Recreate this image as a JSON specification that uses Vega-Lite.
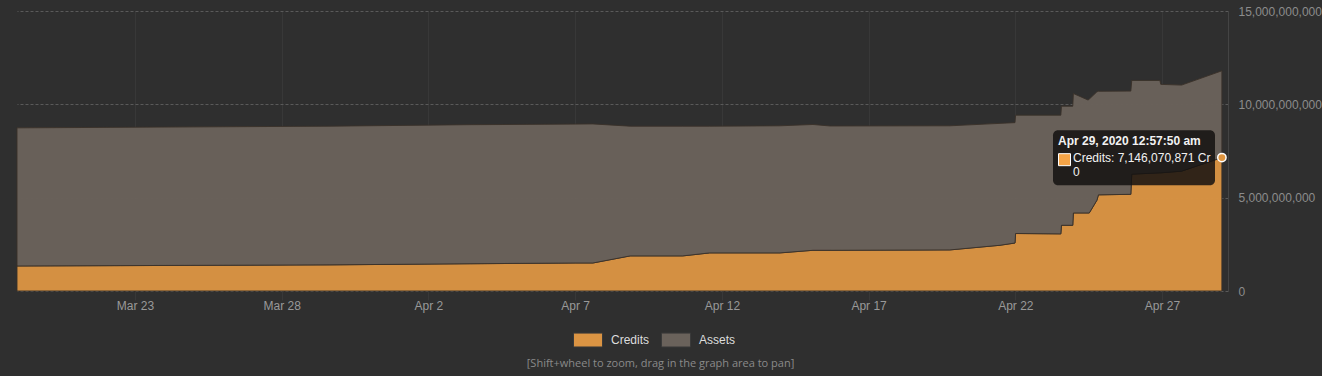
{
  "$schema": "https://vega.github.io/schema/vega-lite/v6.json",
  "autosize": "none",
  "width": 1211,
  "height": 280,
  "padding": {"left": 17, "top": 11, "right": 94, "bottom": 85},
  "background": "#2f2f2f",
  "config": {
    "view": {"stroke": null},
    "font": "Liberation Sans",
    "axis": {"labelFont": "Liberation Sans", "labelFontSize": 12, "labelColor": "#999999", "domain": false, "ticks": false}
  },
  "title": {
    "text": "[Shift+wheel to zoom, drag in the graph area to pan]",
    "orient": "bottom",
    "anchor": "middle",
    "frame": "group",
    "dx": 38,
    "offset": 9,
    "font": "Open Sans",
    "fontSize": 11,
    "fontWeight": "normal",
    "color": "#8a8a8a"
  },
  "datasets": {
    "balance": [
      {"t": "2020-03-18T23:29:00Z", "Credits": 1340000000, "Assets": 7400000000},
      {"t": "2020-03-29T15:30:00Z", "Credits": 1400000000, "Assets": 7430000000},
      {"t": "2020-04-03T10:00:00Z", "Credits": 1460000000, "Assets": 7450000000},
      {"t": "2020-04-07T00:00:00Z", "Credits": 1500000000, "Assets": 7440000000},
      {"t": "2020-04-07T14:30:00Z", "Credits": 1500000000, "Assets": 7450000000},
      {"t": "2020-04-08T21:00:00Z", "Credits": 1880000000, "Assets": 6950000000},
      {"t": "2020-04-10T16:00:00Z", "Credits": 1880000000, "Assets": 6950000000},
      {"t": "2020-04-11T14:00:00Z", "Credits": 2040000000, "Assets": 6790000000},
      {"t": "2020-04-13T23:30:00Z", "Credits": 2040000000, "Assets": 6810000000},
      {"t": "2020-04-15T02:30:00Z", "Credits": 2180000000, "Assets": 6740000000},
      {"t": "2020-04-15T16:30:00Z", "Credits": 2180000000, "Assets": 6660000000},
      {"t": "2020-04-19T18:30:00Z", "Credits": 2200000000, "Assets": 6650000000},
      {"t": "2020-04-21T11:30:00Z", "Credits": 2450000000, "Assets": 6530000000},
      {"t": "2020-04-21T23:45:00Z", "Credits": 2570000000, "Assets": 6450000000},
      {"t": "2020-04-22T00:15:00Z", "Credits": 3080000000, "Assets": 6340000000},
      {"t": "2020-04-23T13:15:00Z", "Credits": 3060000000, "Assets": 6360000000},
      {"t": "2020-04-23T13:45:00Z", "Credits": 3520000000, "Assets": 6380000000},
      {"t": "2020-04-23T23:00:00Z", "Credits": 3520000000, "Assets": 6380000000},
      {"t": "2020-04-23T23:30:00Z", "Credits": 4180000000, "Assets": 6400000000},
      {"t": "2020-04-24T11:30:00Z", "Credits": 4180000000, "Assets": 6050000000},
      {"t": "2020-04-24T12:30:00Z", "Credits": 4180000000, "Assets": 6100000000},
      {"t": "2020-04-24T18:45:00Z", "Credits": 4860000000, "Assets": 5810000000},
      {"t": "2020-04-24T20:00:00Z", "Credits": 5150000000, "Assets": 5550000000},
      {"t": "2020-04-25T22:30:00Z", "Credits": 5180000000, "Assets": 5530000000},
      {"t": "2020-04-25T23:15:00Z", "Credits": 6260000000, "Assets": 5020000000},
      {"t": "2020-04-26T22:15:00Z", "Credits": 6330000000, "Assets": 4950000000},
      {"t": "2020-04-26T23:00:00Z", "Credits": 6330000000, "Assets": 4740000000},
      {"t": "2020-04-27T16:00:00Z", "Credits": 6420000000, "Assets": 4610000000},
      {"t": "2020-04-29T00:57:50Z", "Credits": 7146070871, "Assets": 4650000000}
    ],
    "tipbox": [
      {"t1": "2020-04-23T06:50:00Z", "t2": "2020-04-28T19:20:00Z", "v1": 8617000000, "v2": 5668000000}
    ],
    "tiptitle": [
      {"t": "2020-04-23T06:50:00Z", "v": 8617000000, "text": "Apr 29, 2020 12:57:50 am"}
    ],
    "tiplines": [
      {"t": "2020-04-23T06:50:00Z", "v": 7150000000, "text": "Credits: 7,146,070,871 Cr"},
      {"t": "2020-04-23T06:50:00Z", "v": 6400000000, "text": "0"}
    ],
    "tipswatch": [
      {"t": "2020-04-23T16:15:00Z", "v": 7035000000}
    ],
    "current": [
      {"t": "2020-04-29T00:57:50Z", "v": 7146070871}
    ]
  },
  "layer": [
    {
      "data": {"name": "balance"},
      "transform": [{"fold": ["Credits", "Assets"], "as": ["series", "value"]}],
      "mark": {"type": "area", "stroke": "#3a3129", "strokeWidth": 1, "strokeOpacity": 0.9, "fillOpacity": 0.96, "interpolate": "linear"},
      "encoding": {
        "x": {
          "field": "t", "type": "temporal",
          "scale": {"type": "utc", "domain": ["2020-03-18T23:29:00Z", "2020-04-29T05:58:00Z"]},
          "axis": {
            "title": null,
            "format": "%b %-d",
            "values": ["2020-03-23T00:00:00Z", "2020-03-28T00:00:00Z", "2020-04-02T00:00:00Z", "2020-04-07T00:00:00Z", "2020-04-12T00:00:00Z", "2020-04-17T00:00:00Z", "2020-04-22T00:00:00Z", "2020-04-27T00:00:00Z"],
            "grid": true, "gridColor": "#383838", "gridWidth": 1,
            "ticks": true, "tickColor": "#383838", "tickSize": 9,
            "labelPadding": 0, "labelBaseline": "top", "labelColor": "#999999"
          }
        },
        "y": {
          "field": "value", "type": "quantitative", "stack": "zero",
          "scale": {"domain": [0, 15000000000], "nice": false},
          "axis": {
            "title": null, "orient": "right",
            "values": [0, 5000000000, 10000000000, 15000000000],
            "format": ",d",
            "grid": true, "gridColor": "#5a5a5a", "gridDash": [3, 2], "gridWidth": 1,
            "domain": true, "domainColor": "#444444",
            "labelPadding": 10, "labelColor": "#8c8c8c"
          }
        },
        "color": {
          "field": "series", "type": "nominal",
          "scale": {"domain": ["Credits", "Assets"], "range": ["#db9443", "#6a625b"]},
          "legend": {
            "title": null, "orient": "none", "direction": "horizontal",
            "legendX": 556, "legendY": 314,
            "symbolType": "M-1,-0.48H1V0.48H-1Z", "symbolSize": 841,
            "symbolStrokeColor": "#3a3a3a", "symbolStrokeWidth": 1, "symbolOpacity": 1,
            "labelFont": "Liberation Sans", "labelFontSize": 12, "labelColor": "#dddddd",
            "labelOffset": 8, "columnPadding": 9
          }
        },
        "order": {"field": "series", "sort": "descending"}
      }
    },
    {
      "data": {"name": "tipbox"},
      "mark": {"type": "rect", "fill": "#141210", "fillOpacity": 0.85, "cornerRadius": 5},
      "encoding": {
        "x": {"field": "t1", "type": "temporal"},
        "x2": {"field": "t2"},
        "y": {"field": "v1", "type": "quantitative"},
        "y2": {"field": "v2"}
      }
    },
    {
      "data": {"name": "tiptitle"},
      "mark": {"type": "text", "align": "left", "baseline": "alphabetic", "dx": 5, "dy": 15, "font": "Liberation Sans", "fontSize": 12, "fontWeight": "bold", "color": "#f2f2f2"},
      "encoding": {
        "x": {"field": "t", "type": "temporal"},
        "y": {"field": "v", "type": "quantitative"},
        "text": {"field": "text"}
      }
    },
    {
      "data": {"name": "tiplines"},
      "mark": {"type": "text", "align": "left", "baseline": "middle", "dx": 20, "font": "Liberation Sans", "fontSize": 12, "color": "#f2f2f2"},
      "encoding": {
        "x": {"field": "t", "type": "temporal"},
        "y": {"field": "v", "type": "quantitative"},
        "text": {"field": "text"}
      }
    },
    {
      "data": {"name": "tipswatch"},
      "mark": {"type": "point", "shape": "square", "size": 144, "filled": true, "fill": "#f5a447", "stroke": "#ffffff", "strokeWidth": 1, "opacity": 1},
      "encoding": {
        "x": {"field": "t", "type": "temporal"},
        "y": {"field": "v", "type": "quantitative"}
      }
    },
    {
      "data": {"name": "current"},
      "mark": {"type": "point", "shape": "circle", "size": 70, "filled": true, "fill": "#e0953f", "stroke": "#ffffff", "strokeWidth": 1.5, "opacity": 1},
      "encoding": {
        "x": {"field": "t", "type": "temporal"},
        "y": {"field": "v", "type": "quantitative"}
      }
    }
  ]
}
